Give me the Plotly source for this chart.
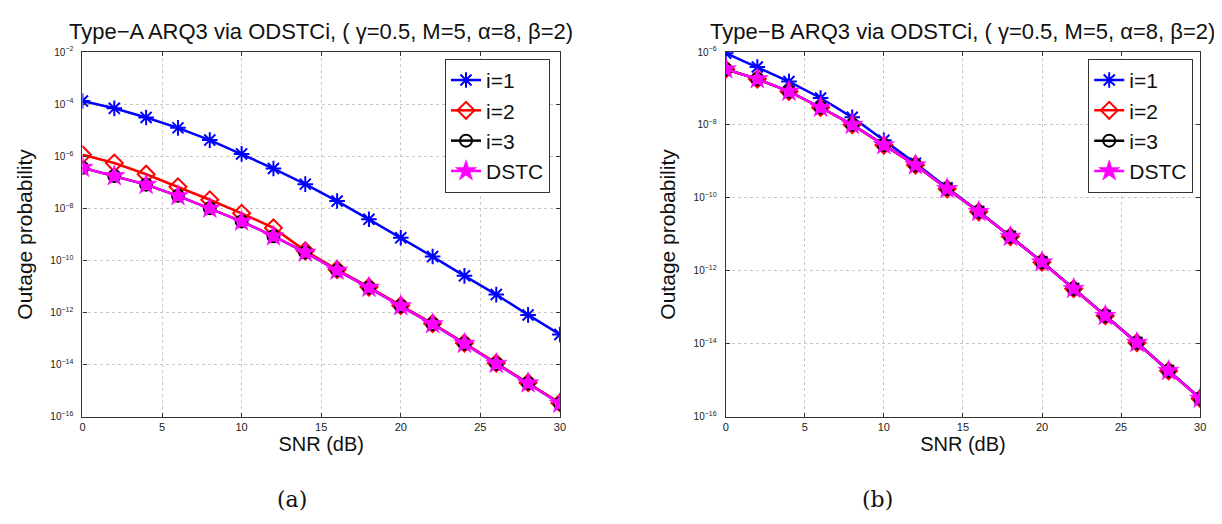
import plotly.graph_objects as go

snr = [0, 2, 4, 6, 8, 10, 12, 14, 16, 18, 20, 22, 24, 26, 28, 30]

# Type-A (log10 of outage probability)
a_i1 = [-3.88, -4.16, -4.51, -4.91, -5.38, -5.91, -6.47, -7.07, -7.72, -8.42, -9.13, -9.85, -10.59, -11.31, -12.09, -12.84]
a_i2 = [-5.94, -6.26, -6.69, -7.17, -7.67, -8.19, -8.75, -9.63, -10.35, -11.02, -11.73, -12.42, -13.17, -13.94, -14.69, -15.47]
a_i3 = [-6.44, -6.76, -7.09, -7.52, -8.00, -8.50, -9.07, -9.69, -10.38, -11.04, -11.75, -12.44, -13.19, -13.96, -14.71, -15.49]
a_dstc = [-6.44, -6.76, -7.09, -7.52, -8.00, -8.50, -9.07, -9.69, -10.38, -11.04, -11.75, -12.44, -13.19, -13.96, -14.71, -15.49]

# Type-B
b_i1 = [-6.03, -6.41, -6.81, -7.26, -7.79, -8.42, -9.05, -9.72, -10.37, -11.05, -11.75, -12.48, -13.22, -13.96, -14.73, -15.49]
b_i2 = [-6.47, -6.74, -7.08, -7.52, -7.99, -8.55, -9.10, -9.75, -10.38, -11.06, -11.76, -12.49, -13.23, -13.97, -14.74, -15.50]
b_i3 = [-6.47, -6.74, -7.08, -7.52, -7.99, -8.55, -9.10, -9.75, -10.38, -11.06, -11.76, -12.49, -13.23, -13.97, -14.74, -15.50]
b_dstc = [-6.47, -6.74, -7.08, -7.52, -7.99, -8.55, -9.10, -9.75, -10.38, -11.06, -11.76, -12.49, -13.23, -13.97, -14.74, -15.50]

names = ["i=1", "i=2", "i=3", "DSTC"]
colors = ["#0000ff", "#ff0000", "#000000", "#ff00ff"]
symbols = ["asterisk-open", "diamond-open", "circle-open", "star"]
sizes = [13, 13, 12, 16]

titles = ["Type\u2212A ARQ3 via ODSTCi, ( \u03b3=0.5, M=5, \u03b1=8, \u03b2=2)",
          "Type\u2212B ARQ3 via ODSTCi, ( \u03b3=0.5, M=5, \u03b1=8, \u03b2=2)"]

FONT = "Liberation Sans, Arial, Helvetica, sans-serif"

fig = go.Figure()

for k, (series, xa, ya, lg) in enumerate([
        ([a_i1, a_i2, a_i3, a_dstc], "x", "y", "legend"),
        ([b_i1, b_i2, b_i3, b_dstc], "x2", "y2", "legend2")]):
    for s, nm, c, sym, sz in zip(series, names, colors, symbols, sizes):
        fig.add_trace(go.Scatter(
            x=snr, y=[10 ** v for v in s], name=nm, mode="lines+markers",
            line=dict(color=c, width=2.5),
            marker=dict(symbol=sym, size=sz, color=c,
                        line=dict(color=c, width=2 if sym != "star" else 0.5)),
            xaxis=xa, yaxis=ya, legend=lg))


def ytick(lo, hi):
    vals = [10 ** e for e in range(hi, lo - 1, -2)]
    txt = ["10<sup>\u2212%d</sup>" % (-e) for e in range(hi, lo - 1, -2)]
    return vals, txt


yv1, yt1 = ytick(-16, -2)
yv2, yt2 = ytick(-16, -6)

xcommon = dict(range=[0, 30], tickvals=[0, 5, 10, 15, 20, 25, 30],
               showgrid=True, gridcolor="#c8c8c8", griddash="dot", gridwidth=1,
               showline=True, linecolor="#333333", linewidth=1.2, mirror="ticks",
               ticks="inside", ticklen=4, tickcolor="#333333",
               tickfont=dict(size=11, color="#222222", family=FONT),
               zeroline=False,
               title=dict(text="SNR (dB)", font=dict(size=20, color="#111111", family=FONT), standoff=4))
ycommon = dict(type="log", showgrid=True, gridcolor="#c8c8c8", griddash="dot", gridwidth=1,
               showline=True, linecolor="#333333", linewidth=1.2, mirror="ticks",
               ticks="inside", ticklen=4, tickcolor="#333333",
               tickfont=dict(size=10, color="#222222", family=FONT),
               ticklabelstandoff=6,
               zeroline=False,
               title=dict(text="Outage probability", font=dict(size=21, color="#111111", family=FONT), standoff=12))

ydom = [1 - 412 / 524, 1 - 38 / 524]
legcommon = dict(y=1 - 45 / 524, yanchor="top",
                 bordercolor="#333333", borderwidth=1, bgcolor="white",
                 font=dict(size=21, family=FONT), tracegroupgap=0, itemwidth=30)
fig.update_layout(
    width=1222, height=524, margin=dict(l=0, r=0, t=0, b=0),
    paper_bgcolor="white", plot_bgcolor="white",
    font=dict(family=FONT, color="#111111"),
    xaxis=dict(domain=[72 / 1222, 553 / 1222], anchor="y", **xcommon),
    yaxis=dict(domain=ydom, anchor="x", range=[-16, -2], tickvals=yv1, ticktext=yt1, **ycommon),
    xaxis2=dict(domain=[720 / 1222, 1198 / 1222], anchor="y2", **xcommon),
    yaxis2=dict(domain=ydom, anchor="x2", range=[-16, -6], tickvals=yv2, ticktext=yt2, **ycommon),
    legend=dict(x=543 / 1222, xanchor="right", **legcommon),
    legend2=dict(x=1191 / 1222, xanchor="right", **legcommon),
    showlegend=True,
)

for xc, t in zip([(72 + 553) / 2 / 1222, (720 + 1198) / 2 / 1222], titles):
    fig.add_annotation(x=xc, y=1 - 17 / 524, xref="paper", yref="paper", text=t,
                       showarrow=False, font=dict(size=22, family=FONT, color="#111111"),
                       xanchor="center", yanchor="middle")

for xc, t in zip([283 / 1222, 873 / 1222], ["(a)", "(b)"]):
    fig.add_annotation(x=xc, y=1 - 497 / 524, xref="paper", yref="paper", text=t,
                       showarrow=False, font=dict(size=22, family="DejaVu Serif, Liberation Serif, serif", color="#111111"),
                       xanchor="center", yanchor="middle")

fig.write_html("out.html")
